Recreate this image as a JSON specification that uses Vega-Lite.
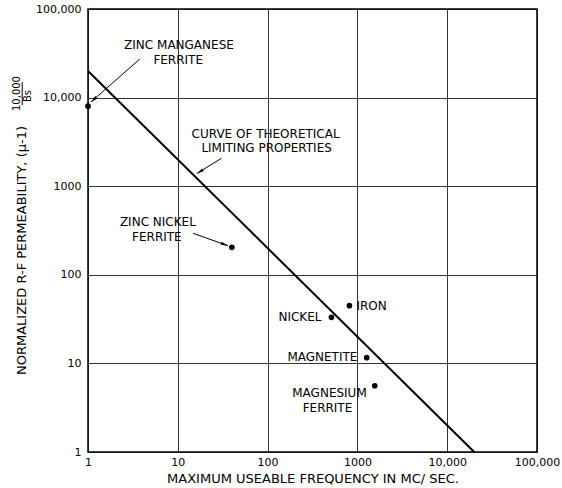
{
  "$schema": "https://vega.github.io/schema/vega-lite/v6.json",
  "width": 449,
  "height": 443,
  "autosize": {"type": "none"},
  "padding": {"left": 88, "top": 9, "right": 25, "bottom": 36},
  "background": "white",
  "config": {
    "view": {"stroke": "black", "strokeWidth": 1.5},
    "font": "DejaVu Sans",
    "axis": {
      "grid": true,
      "gridColor": "#111111",
      "gridWidth": 1,
      "gridOpacity": 0.85,
      "domain": false,
      "ticks": false,
      "labelFont": "DejaVu Sans",
      "labelFontSize": 11,
      "labelColor": "black",
      "titleFont": "DejaVu Sans",
      "titleFontSize": 13,
      "titleFontWeight": "normal",
      "titleColor": "black"
    },
    "text": {"font": "DejaVu Sans", "fontSize": 12, "color": "black"}
  },
  "datasets": {
    "curve": [
      {"x": 1, "y": 20000},
      {"x": 20000, "y": 1}
    ],
    "materials": [
      {"name": "Zinc manganese ferrite", "x": 1, "y": 8000},
      {"name": "Zinc nickel ferrite", "x": 40, "y": 204},
      {"name": "Iron", "x": 815, "y": 44.8},
      {"name": "Nickel", "x": 514, "y": 33.1},
      {"name": "Magnetite", "x": 1270, "y": 11.6},
      {"name": "Magnesium ferrite", "x": 1560, "y": 5.6}
    ],
    "arrows": [
      {"name": "zm", "x": 1.08, "y": 8920, "xt": 3.78, "yt": 27300},
      {"name": "curve", "x": 16.3, "y": 1390, "xt": 30.6, "yt": 2065},
      {"name": "zn", "x": 36.2, "y": 213, "xt": 14.8, "yt": 294}
    ],
    "labelsCenter": [
      {"text": "ZINC MANGANESE", "x": 10.3, "y": 39200},
      {"text": "FERRITE", "x": 10.1, "y": 26600},
      {"text": "CURVE OF THEORETICAL", "x": 95, "y": 3880},
      {"text": "LIMITING PROPERTIES", "x": 97.5, "y": 2700},
      {"text": "ZINC NICKEL", "x": 6.0, "y": 394},
      {"text": "FERRITE", "x": 5.85, "y": 267},
      {"text": "MAGNESIUM", "x": 489, "y": 4.63},
      {"text": "FERRITE", "x": 464, "y": 3.14}
    ],
    "labelsLeft": [
      {"text": "IRON", "x": 975, "y": 44.4}
    ],
    "labelsRight": [
      {"text": "NICKEL", "x": 398, "y": 33.4},
      {"text": "MAGNETITE", "x": 1000, "y": 11.8}
    ],
    "fracText": [
      {"text": "10,000", "x": 0.163, "y": 11120},
      {"text": "Bs", "x": 0.215, "y": 10420}
    ],
    "fracLine": [
      {"x": 0.185, "y": 15000, "yt": 8250}
    ]
  },
  "encoding": {
    "x": {
      "field": "x",
      "type": "quantitative",
      "scale": {"type": "log", "domain": [1, 100000], "nice": false},
      "axis": {
        "values": [1, 10, 100, 1000, 10000, 100000],
        "labelExpr": "datum.value >= 10000 ? format(datum.value, ',') : format(datum.value, 'd')",
        "labelPadding": 4,
        "labelFlush": false,
        "title": "MAXIMUM USEABLE FREQUENCY IN MC/ SEC.",
        "titleY": 26,
        "titleBaseline": "middle"
      }
    },
    "y": {
      "field": "y",
      "type": "quantitative",
      "scale": {"type": "log", "domain": [1, 100000], "nice": false},
      "axis": {
        "values": [1, 10, 100, 1000, 10000, 100000],
        "labelExpr": "datum.value >= 10000 ? format(datum.value, ',') : format(datum.value, 'd')",
        "labelPadding": 7,
        "labelFlush": false,
        "title": "NORMALIZED R-F PERMEABILITY, (μ-1)",
        "titleX": -67,
        "titleY": 241,
        "titleAngle": -90,
        "titleAlign": "center",
        "titleBaseline": "middle"
      }
    }
  },
  "layer": [
    {
      "data": {"name": "curve"},
      "mark": {"type": "line", "color": "black", "strokeWidth": 2}
    },
    {
      "data": {"name": "materials"},
      "mark": {"type": "circle", "color": "black", "size": 32, "opacity": 1}
    },
    {
      "data": {"name": "arrows"},
      "mark": {"type": "rule", "color": "black", "strokeWidth": 1},
      "encoding": {
        "x2": {"field": "xt"},
        "y2": {"field": "yt"}
      }
    },
    {
      "data": {"name": "arrows"},
      "transform": [{"filter": "datum.name == 'zm'"}],
      "mark": {"type": "point", "shape": "M0,0L0.4,1.8L-0.4,1.8Z", "filled": true, "color": "black", "opacity": 1, "size": 64, "angle": 228.7}
    },
    {
      "data": {"name": "arrows"},
      "transform": [{"filter": "datum.name == 'curve'"}],
      "mark": {"type": "point", "shape": "M0,0L0.4,1.8L-0.4,1.8Z", "filled": true, "color": "black", "opacity": 1, "size": 64, "angle": 238.7}
    },
    {
      "data": {"name": "arrows"},
      "transform": [{"filter": "datum.name == 'zn'"}],
      "mark": {"type": "point", "shape": "M0,0L0.4,1.8L-0.4,1.8Z", "filled": true, "color": "black", "opacity": 1, "size": 64, "angle": 109.5}
    },
    {
      "data": {"name": "labelsCenter"},
      "mark": {"type": "text", "align": "center", "baseline": "middle"},
      "encoding": {"text": {"field": "text"}}
    },
    {
      "data": {"name": "labelsLeft"},
      "mark": {"type": "text", "align": "left", "baseline": "middle"},
      "encoding": {"text": {"field": "text"}}
    },
    {
      "data": {"name": "labelsRight"},
      "mark": {"type": "text", "align": "right", "baseline": "middle"},
      "encoding": {"text": {"field": "text"}}
    },
    {
      "data": {"name": "fracText"},
      "mark": {"type": "text", "align": "center", "baseline": "middle", "angle": -90, "fontSize": 10},
      "encoding": {"text": {"field": "text"}}
    },
    {
      "data": {"name": "fracLine"},
      "mark": {"type": "rule", "color": "black", "strokeWidth": 1},
      "encoding": {
        "y2": {"field": "yt"}
      }
    }
  ]
}
